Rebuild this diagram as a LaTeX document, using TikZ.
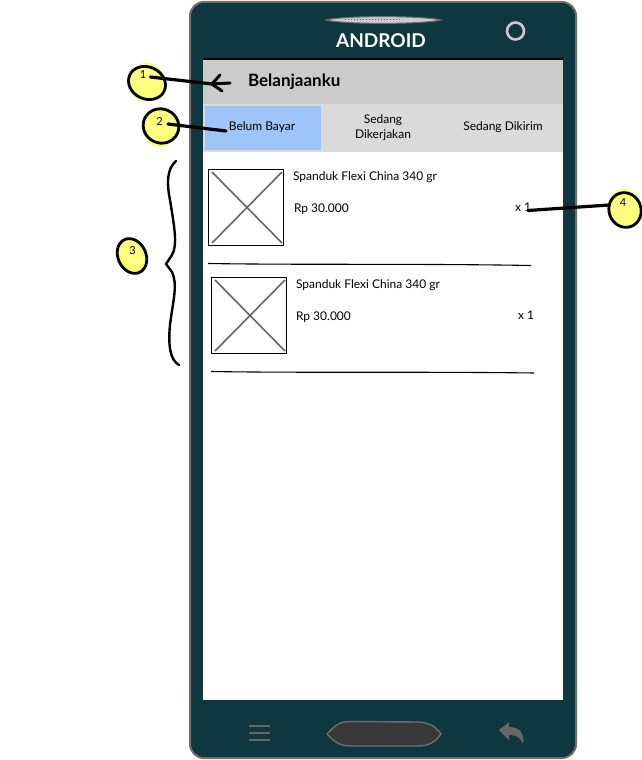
\documentclass[tikz,border=0pt]{standalone}
\usepackage{fontspec}
\setmainfont{Lato}
\definecolor{phone}{HTML}{0F3740}
\definecolor{rim}{HTML}{6E6E6E}
\definecolor{hdr}{HTML}{CBCBCB}
\definecolor{tabbar}{HTML}{DADADA}
\definecolor{tabsel}{HTML}{9FC5F8}
\definecolor{blob}{HTML}{FFFF7F}
\definecolor{crossc}{HTML}{666666}
\tikzset{
  ui/.style={inner sep=0pt,outer sep=0pt,font=\fontsize{12}{14}\selectfont,text=black},
  tabtxt/.style={ui,align=center,font=\fontsize{12}{14.5}\selectfont},
  callout/.style={line width=3.2pt,black,line cap=round},
  blobfill/.style={fill=blob,draw=none},
  blobline/.style={draw=black,line width=2.8pt},
  num/.style={inner sep=0pt,font=\fontsize{11}{12}\selectfont},
  pic box/.style={draw=black,line width=1.6pt,fill=white,minimum width=75pt,minimum height=76pt,inner sep=0pt},
  xline/.style={draw=crossc,line width=1.6pt},
  sep/.style={draw=black,line width=1.1pt},
  softkey/.style={draw=crossc,line width=2.6pt},
}
\begin{document}
\begin{tikzpicture}[x=1pt,y=-1pt]
\useasboundingbox (0,0) rectangle (641,760);
% phone body
\draw[draw=rim,line width=2pt,fill=phone,rounded corners=14pt] (190,2) rectangle (576,758);
\fill[white] (203,60) rectangle (563,700);
\fill[black] (203,58.5) rectangle (563,60.5);
\fill[hdr] (203,60) rectangle (563,104);
\fill[tabbar] (203,104) rectangle (563,152);
\node[fill=tabsel,minimum width=116pt,minimum height=44pt,inner sep=0pt] (tab1) at (263,128) {};
% speaker, camera
\draw[draw=rim,fill=hdr,line width=1pt] (326,20) .. controls (345,15.5) and (420,15.5) .. (441,20) .. controls (420,24.5) and (345,24.5) .. (326,20) -- cycle;
\draw[draw=crossc,line width=1pt,dotted] (345,20) -- (402,20);
\node[inner sep=0pt,font=\fontsize{19}{20}\selectfont\bfseries,text=white] (brand) at (381,41) {ANDROID};
\node[circle,draw=hdr,line width=2.6pt,minimum size=17pt,inner sep=0pt] (cam) at (515.5,31) {};
% header
\node[ui,font=\fontsize{17}{18}\selectfont\bfseries,anchor=west] (title) at (248,82) {Belanjaanku};
\coordinate (arrowtip) at (212,84);
\coordinate (arrowend) at (230,83);
\draw[line width=3pt,line cap=round,line join=round] (arrowend) -- (arrowtip);
\draw[line width=3pt,line cap=round,line join=round] (220,75) -- (arrowtip) -- (222,91);
% tabs
\node[tabtxt] (t1) at (262,127.5) {Belum Bayar};
\node[tabtxt] (t2) at (383,127.5) {Sedang\\Dikerjakan};
\node[tabtxt] (t3) at (503,127.5) {Sedang Dikirim};
% item 1
\node[pic box] (img1) at (246,207.5) {};
\draw[xline] (212,172) -- (282,243) (282,172) -- (212,243);
\node[ui,anchor=west] (name1) at (293,177) {Spanduk Flexi China 340 gr};
\node[ui,anchor=west] (price1) at (294,209) {Rp 30.000};
\node[ui,anchor=west] (qty1) at (515,207.5) {x 1};
\coordinate (s1a) at (208,263.5); \coordinate (s1b) at (531,265.5);
\draw[sep] (s1a) .. controls (300,265) and (420,263.5) .. (s1b);
% item 2
\node[pic box] (img2) at (249,315.5) {};
\draw[xline] (215,280) -- (285,351) (285,280) -- (215,351);
\node[ui,anchor=west] (name2) at (296,285) {Spanduk Flexi China 340 gr};
\node[ui,anchor=west] (price2) at (296,317) {Rp 30.000};
\node[ui,anchor=west] (qty2) at (518,315) {x 1};
\coordinate (s2a) at (211,371.5); \coordinate (s2b) at (534,373);
\draw[sep] (s2a) .. controls (300,373) and (420,371.5) .. (s2b);
% bottom keys
\draw[softkey] (249,726) -- (270,726) (249,733) -- (270,733) (249,740) -- (270,740);
\draw[draw=rim,fill=black!78,line width=1.4pt] (327,734) .. controls (334,727) and (338,721.5) .. (350,721.5) -- (418,722) .. controls (430,722.5) and (436,727) .. (441,734) .. controls (436,741) and (430,746) .. (418,746) -- (350,746) .. controls (338,745.5) and (334,741) .. (327,734) -- cycle;
\fill[crossc] (499,730) -- (509,722) -- (509,727) .. controls (519,727) and (525,733) .. (523,744) .. controls (520,737) and (516,735) .. (509,735) -- (509,740) -- cycle;
% brace
\coordinate (brtop) at (176,161); \coordinate (brbot) at (179,365); \coordinate (brtip) at (166,264);
\draw[line width=2.4pt,line cap=round] (brtop) .. controls (168,168) and (166,180) .. (170,200) .. controls (174,225) and (178,245) .. (172,255) -- (brtip) -- (172,272) .. controls (178,285) and (173,300) .. (170,325) .. controls (168,345) and (170,360) .. (brbot);
% callouts
\begin{scope}
\fill[blobfill,rotate around={-15:(146,82)}] (146,82) ellipse (19 and 19);
\draw[blobline,rotate around={-25:(147,83)}] (147,83) ellipse (19 and 16);
\node[num] (n1) at (143,75) {1};
\fill[blobfill] (160,127) ellipse (18 and 20);
\draw[blobline,rotate around={-25:(161,126)}] (161,126) ellipse (18 and 17);
\node[num] (n2) at (159.5,122) {2};
\fill[blobfill,rotate around={25:(132,256)}] (132,256) ellipse (14 and 18);
\draw[blobline,rotate around={25:(132,256)}] (132,256) ellipse (14 and 18);
\node[num] (n3) at (132.5,251) {3};
\fill[blobfill] (624,208) ellipse (17 and 19);
\draw[blobline,rotate around={20:(625,210)}] (625,210) ellipse (16 and 17.5);
\node[num] (n4) at (623,203) {4};
\end{scope}
\draw[callout] (n1.east)++(4,2) coordinate (c1) -- (arrowtip);
\draw[callout] (n2.east)++(5,2) coordinate (c2) -- (226,131) coordinate (c2e);
\draw[callout] (qty1.east) ++(-3,3) coordinate (c4e) -- (609,205) coordinate (c4);
\end{tikzpicture}
\end{document}
